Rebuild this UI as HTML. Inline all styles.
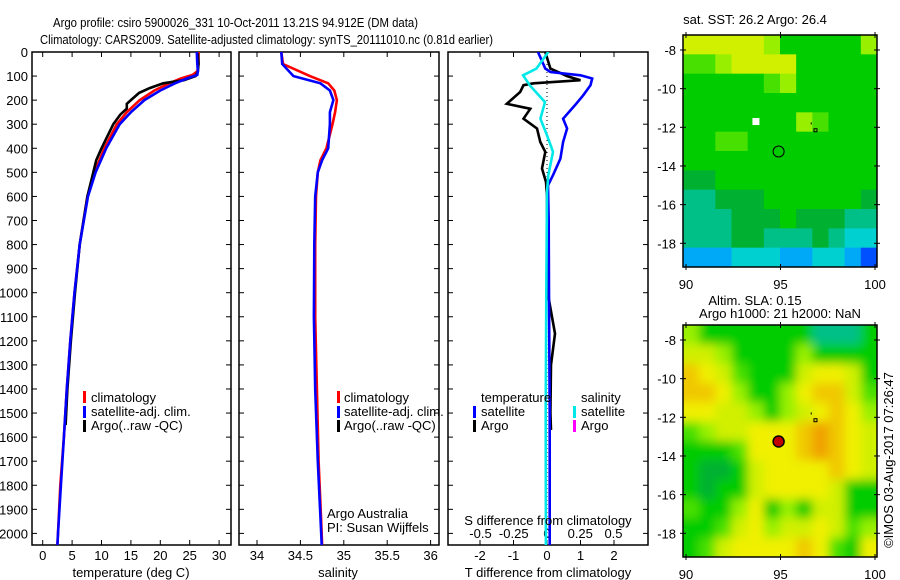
<!DOCTYPE html>
<html><head><meta charset="utf-8"><style>
body{margin:0;background:#fff;}
svg{display:block;font-family:"Liberation Sans",sans-serif;}
text{fill:#000;}
</style></head><body>
<svg id="fig" width="900" height="580" viewBox="0 0 900 580" xmlns="http://www.w3.org/2000/svg">
<defs>
<clipPath id="c1"><rect x="32" y="52" width="199" height="493"/></clipPath>
<clipPath id="c2"><rect x="239" y="52" width="200" height="493"/></clipPath>
<clipPath id="c3"><rect x="448" y="52" width="200" height="493"/></clipPath>
<clipPath id="cm1"><rect x="683" y="35" width="194" height="232"/></clipPath>
<clipPath id="cm2"><rect x="683" y="325" width="194" height="232"/></clipPath>
<filter id="bl" x="0" y="0" width="1" height="1"><feGaussianBlur stdDeviation="5"/></filter>
</defs>
<text x="53" y="27" font-size="13" textLength="365" lengthAdjust="spacingAndGlyphs">Argo profile: csiro 5900026_331 10-Oct-2011 13.21S 94.912E (DM data)</text>
<text x="40" y="44" font-size="13" textLength="453" lengthAdjust="spacingAndGlyphs">Climatology: CARS2009. Satellite-adjusted climatology: synTS_20111010.nc (0.81d earlier)</text>
<text x="755" y="24" font-size="13" text-anchor="middle">sat. SST: 26.2 Argo: 26.4</text>
<text x="755" y="305" font-size="13" text-anchor="middle">Altim. SLA: 0.15</text>
<text x="780" y="318" font-size="13" text-anchor="middle">Argo h1000: 21 h2000: NaN</text>
<text transform="translate(893,460) rotate(-90)" font-size="13" text-anchor="middle">©IMOS 03-Aug-2017 07:26:47</text>
<g id="g"></g>
</svg>
<script>
// ---- data ----
const depthTicks=[0,100,200,300,400,500,600,700,800,900,1000,1100,1200,1300,1400,1500,1600,1700,1800,1900,2000];
const tempTicks=[0,5,10,15,20,25,30];
const salTicks=[34,34.5,35,35.5,36];
const tdTicks=[-2,-1,0,1,2];
const sdTicks=[-0.5,-0.25,0,0.25,0.5];
const sdTickLabels=["-0.5","-0.25","0","0.25","0.5"];
const climDepth=[0,50,80,95,110,130,160,200,250,300,400,500,600,800,1000,1200,1400,1600,1800,2000,2050];
const climTemp=[26.5,26.5,26.3,25.5,23.5,21.5,19,16.5,14.3,12.6,10.5,8.8,7.6,6.3,5.4,4.7,4.1,3.6,3.0,2.6,2.5];
const satTemp=[26.2,26.3,26.4,26.3,24.5,22.5,20,17.3,15,13.1,10.8,9.0,7.7,6.3,5.4,4.7,4.1,3.6,3.1,2.6,2.5];
const argoDepth=[5,50,80,100,117,130,150,170,200,215,235,260,300,350,400,450,500,600,800,1000,1200,1400,1500,1550];
const argoTemp=[26.4,26.5,26.4,26,24,20.5,18.2,16.4,15,14.3,14.3,13.2,12,11,10.0,9.1,8.6,7.6,6.3,5.5,4.8,4.2,4.0,3.9];
const salDepth=[0,50,100,130,160,200,250,300,400,450,500,600,800,1100,1400,1700,2000,2050];
const climSal=[34.28,34.30,34.61,34.82,34.89,34.92,34.9,34.87,34.80,34.73,34.70,34.68,34.67,34.67,34.69,34.71,34.745,34.75];
const satSal=[34.28,34.29,34.42,34.73,34.84,34.88,34.84,34.84,34.82,34.75,34.70,34.67,34.66,34.655,34.67,34.70,34.74,34.745];
const diffDepth=[0,69,83,97,110,138,180,222,277,318,374,443,512,554,700,1000,1500,2050];
const satTDiff=[-0.27,-0.05,0.1,1.0,1.35,1.3,1.08,0.83,0.48,0.6,0.48,0.4,0.18,0.03,0.05,0.06,0.08,0.08];
const argoDDepth=[0,69,100,117,130,138,166,215,236,277,318,374,415,484,540,600,800,1000,1170,1300,1500,1570];
const argoTDiff=[-0.05,0.1,0.6,1.0,-0.4,-0.7,-0.8,-1.2,-0.5,-0.7,-0.3,-0.2,-0.05,-0.15,-0.03,0,0,0.02,0.24,0.12,0.1,0.12];
const sDiffDepth=[0,69,97,138,208,277,346,415,512,582,1000,1500,2050];
const satSDiff=[0.01,-0.08,-0.18,-0.13,-0.015,-0.05,0,0.045,0.01,0,-0.005,-0.01,-0.008];
const sstGrid=["888887555557","667888855555","555556755555","555555555555","555555576555","556655555555","555555555555","445555555555","334445555554","333444544433","333443334322","111222112210"];
const slaGrid=["755555553335","887555575555","A98655589985","AA975579AA86","998875789A97","6788999ABA98","5556999ABA98","544589999A98","545589999855","655795758855","556897889867","5689999A9659"];
const palette={"0":"#0050ff","1":"#00a8f8","2":"#00d0d0","3":"#00c088","4":"#00b030","5":"#00cc00","6":"#48e000","7":"#98f000","8":"#d0f000","9":"#f0f000","A":"#f0c800","B":"#f0a000"};
const lonTicks=[90,95,100];
const latTicks=[-8,-10,-12,-14,-16,-18];

// ---- helpers ----
const NS="http://www.w3.org/2000/svg";
const G=document.getElementById('g');
function el(tag,attrs,parent){const e=document.createElementNS(NS,tag);for(const k in attrs)e.setAttribute(k,attrs[k]);(parent||G).appendChild(e);return e;}
const TOP=52,BOT=545;
const yD=d=>TOP+d*0.2407;
const xT=t=>42.7+t*5.88;
const xS=s=>257+(s-34)*86.8;
const xTD=t=>547+t*33.5;
const xSD=s=>547+s*133;

function frame(x0,x1,name){
  const r=el('rect',{x:x0,y:TOP,width:x1-x0,height:BOT-TOP,fill:'none',stroke:'#000','stroke-width':1.5});
  
  
  depthTicks.forEach(d=>{
    el('line',{x1:x0,x2:x0+5,y1:yD(d),y2:yD(d),stroke:'#000'});
    el('line',{x1:x1-5,x2:x1,y1:yD(d),y2:yD(d),stroke:'#000'});
  });
}
function xticks(vals,fx,labels,ly,name){
  vals.forEach((v,i)=>{
    const x=fx(v);
    el('line',{x1:x,x2:x,y1:TOP,y2:TOP+5,stroke:'#000'});
    el('line',{x1:x,x2:x,y1:BOT-5,y2:BOT,stroke:'#000'});
    if(labels){const t=el('text',{x:x,y:ly,'font-size':13,'text-anchor':'middle'});t.textContent=labels[i];
      
      }
  });
}
function line(xs,ds,fx,color,clip,name){
  let p='';
  for(let i=0;i<xs.length;i++){const x=fx(xs[i]),y=yD(ds[i]);p+=(i?'L':'M')+x.toFixed(1)+' '+y.toFixed(1);}
  const e=el('path',{d:p,fill:'none',stroke:color,'stroke-width':2.6,'clip-path':'url(#'+clip+')'});
  
  
}
function label(x,y,txt,name,anchor,size){
  const t=el('text',{x:x,y:y,'font-size':size||13,'text-anchor':anchor||'start'});t.textContent=txt;
  
  
}
function legbar(x,y,color,name){
  const r=el('rect',{x:x,y:y-10,width:3,height:12,fill:color});
  
  
}

depthTicks.forEach(d=>label(28,yD(d)+5,String(d),'depth-tick-label','end',13));

// panel 1
frame(32,231,'temperature-panel');
xticks(tempTicks,xT,tempTicks.map(String),560,'temperature-tick-label');
line(climTemp,climDepth,xT,'#ff0000','c1','climatology-temperature-line');
line(argoTemp,argoDepth,xT,'#000000','c1','argo-temperature-line');
line(satTemp,climDepth,xT,'#0000ff','c1','satellite-temperature-line');
label(131,577,'temperature (deg C)','temperature-axis-title','middle');
legbar(83,401,'#ff0000','legend-climatology-marker');label(91,402,'climatology','legend-climatology');
legbar(83,416,'#0000ff','legend-satellite-marker');label(91,416,'satellite-adj. clim.','legend-satellite');
legbar(83,430,'#000000','legend-argo-marker');label(91,430,'Argo(..raw -QC)','legend-argo');

// panel 2
frame(239,439,'salinity-panel');
xticks(salTicks,xS,salTicks.map(String),560,'salinity-tick-label');
line(climSal,salDepth,xS,'#ff0000','c2','climatology-salinity-line');
line(satSal,salDepth,xS,'#0000ff','c2','satellite-salinity-line');
label(338,577,'salinity','salinity-axis-title','middle');
legbar(337,401,'#ff0000','legend2-climatology-marker');label(344,402,'climatology','legend2-climatology');
legbar(337,416,'#0000ff','legend2-satellite-marker');label(344,416,'satellite-adj. clim.','legend2-satellite');
legbar(337,430,'#000000','legend2-argo-marker');label(344,430,'Argo(..raw -QC)','legend2-argo');
label(327,518,'Argo Australia','argo-australia-label');
label(327,532,'PI: Susan Wijffels','pi-label');

// panel 3
frame(448,648,'difference-panel');
xticks(tdTicks,xTD,tdTicks.map(String),560,'t-diff-tick-label');
sdTicks.forEach((v,i)=>label(xSD(v),538,sdTickLabels[i],'s-diff-tick-label','middle'));
const zl=el('line',{x1:xTD(0),x2:xTD(0),y1:TOP,y2:BOT,stroke:'#000','stroke-dasharray':'1 3'});


line(argoTDiff,argoDDepth,xTD,'#000000','c3','argo-t-diff-line');
line(satTDiff,diffDepth,xTD,'#0000ff','c3','satellite-t-diff-line');
line(satSDiff,sDiffDepth,xSD,'#00e8e8','c3','satellite-s-diff-line');
label(548,525,'S difference from climatology','s-diff-axis-title','middle');
label(548,577,'T difference from climatology','t-diff-axis-title','middle');
label(481,402,'temperature','legend3-temperature-heading');
label(581,402,'salinity','legend3-salinity-heading');
legbar(473,416,'#0000ff','legend3-t-sat-marker');label(481,416,'satellite','legend3-t-satellite');
legbar(473,430,'#000000','legend3-t-argo-marker');label(481,430,'Argo','legend3-t-argo');
legbar(573,416,'#00e8e8','legend3-s-sat-marker');label(581,416,'satellite','legend3-s-satellite');
legbar(573,430,'#ff00ff','legend3-s-argo-marker');label(581,430,'Argo','legend3-s-argo');

// maps
const MX0=683,MX1=877;
const lonX=l=>686+(l-90)*18.9;
function map(grid,y0,clip,name,blur){
  const latY=la=>y0+15+(-8-la)*19.33;
  const g=el('g',{'clip-path':'url(#'+clip+')'});
  
  
  const inner=el('g',blur?{filter:'url(#bl)'}:{},g);
  const rows=grid.length,cols=grid[0].length;
  const cw=(MX1-MX0)/cols,ch=232/rows;
  const pad=blur?1:0;
  for(let r=-pad;r<rows+pad;r++)for(let c=-pad;c<cols+pad;c++){
    const rr=Math.min(rows-1,Math.max(0,r)),cc=Math.min(cols-1,Math.max(0,c));
    const cell=el('rect',{x:MX0+c*cw,y:y0+r*ch,width:cw+0.6,height:ch+0.6,fill:palette[grid[rr][cc]]||'#00cc00'},inner);
    
    
  }
  const fr=el('rect',{x:MX0,y:y0,width:MX1-MX0,height:232,fill:'none',stroke:'#000','stroke-width':1.5});
  
  
  lonTicks.forEach(l=>{const x=lonX(l);
    el('line',{x1:x,x2:x,y1:y0-3,y2:y0+3,stroke:'#000'});el('line',{x1:x,x2:x,y1:y0+229,y2:y0+235,stroke:'#000'});
    label(x,y0+254,String(l),'lon-tick-label','middle');});
  latTicks.forEach(la=>{const y=latY(la);
    el('line',{x1:MX0-3,x2:MX0+3,y1:y,y2:y,stroke:'#000'});el('line',{x1:MX1-3,x2:MX1+3,y1:y,y2:y,stroke:'#000'});
    label(676,y+5,String(la),'lat-tick-label','end');});
  el('rect',{x:lonX(96.85)-1.5,y:latY(-12.15)-1.5,width:3,height:3,fill:'none',stroke:'#000','stroke-width':1});
  el('rect',{x:lonX(96.6),y:latY(-11.8)-1,width:1,height:2,fill:'#000'});
  return latY;
}
const ly1=map(sstGrid,35,'cm1','sst-map',false);
el('rect',{x:lonX(93.7)-3.5,y:ly1(-11.7)-3.5,width:7,height:7,fill:'#fff'});
const c1=el('circle',{cx:lonX(94.9),cy:ly1(-13.25),r:5.5,fill:'none',stroke:'#000','stroke-width':1});


const ly2=map(slaGrid,325,'cm2','sla-map',true);
const c2=el('circle',{cx:lonX(94.9),cy:ly2(-13.25),r:5.5,fill:'#c00000',stroke:'#000','stroke-width':1.5});


</script>
</body></html>
